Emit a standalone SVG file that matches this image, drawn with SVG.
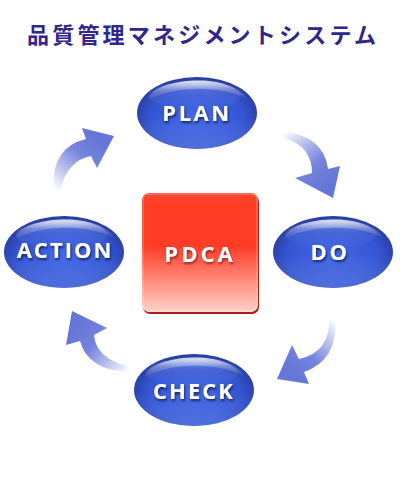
<svg xmlns="http://www.w3.org/2000/svg" width="400" height="500" viewBox="0 0 400 500">
<defs>
<style>
.title{font-family:"Noto Sans CJK JP","Noto Sans CJK SC",sans-serif;font-weight:700;font-size:22px;letter-spacing:3.2px;fill:#2f278c}
.lbl{font-family:"Open Sans","DejaVu Sans",sans-serif;font-weight:700;font-size:22px;fill:#ffffff;text-anchor:middle}
</style>
<radialGradient id="gBlue" cx="0.5" cy="0.55" r="0.55">
<stop offset="0" stop-color="#4468e8"/>
<stop offset="0.7" stop-color="#3455d2"/>
<stop offset="1" stop-color="#283c9e"/>
</radialGradient>
<linearGradient id="gRim" x1="0" y1="0" x2="0" y2="1">
<stop offset="0.55" stop-color="#7090f0" stop-opacity="0"/>
<stop offset="1" stop-color="#7090f0" stop-opacity="0.5"/>
</linearGradient>
<linearGradient id="gHi" x1="0" y1="0" x2="0" y2="1">
<stop offset="0" stop-color="#ffffff" stop-opacity="0.85"/>
<stop offset="0.45" stop-color="#ffffff" stop-opacity="0.25"/>
<stop offset="1" stop-color="#ffffff" stop-opacity="0"/>
</linearGradient>
<linearGradient id="gRed" x1="0" y1="0" x2="0" y2="1">
<stop offset="0" stop-color="#ff4a34"/>
<stop offset="0.08" stop-color="#ff3c24"/>
<stop offset="0.45" stop-color="#ff3d26"/>
<stop offset="1" stop-color="#ffd2ca"/>
</linearGradient>
<linearGradient id="a1" gradientUnits="userSpaceOnUse" x1="282" y1="134" x2="326" y2="186">
<stop offset="0" stop-color="#6676d8" stop-opacity="0"/>
<stop offset="0.2" stop-color="#6676d8" stop-opacity="0.3"/>
<stop offset="0.65" stop-color="#6676d8" stop-opacity="0.9"/>
<stop offset="1" stop-color="#6676d8"/>
</linearGradient>
<linearGradient id="a2" gradientUnits="userSpaceOnUse" x1="56" y1="190" x2="100" y2="140">
<stop offset="0" stop-color="#6676d8" stop-opacity="0"/>
<stop offset="0.2" stop-color="#6676d8" stop-opacity="0.3"/>
<stop offset="0.65" stop-color="#6676d8" stop-opacity="0.9"/>
<stop offset="1" stop-color="#6676d8"/>
</linearGradient>
<linearGradient id="a3" gradientUnits="userSpaceOnUse" x1="332" y1="318" x2="290" y2="372">
<stop offset="0" stop-color="#6676d8" stop-opacity="0"/>
<stop offset="0.2" stop-color="#6676d8" stop-opacity="0.3"/>
<stop offset="0.65" stop-color="#6676d8" stop-opacity="0.9"/>
<stop offset="1" stop-color="#6676d8"/>
</linearGradient>
<linearGradient id="a4" gradientUnits="userSpaceOnUse" x1="130" y1="370" x2="80" y2="325">
<stop offset="0" stop-color="#6676d8" stop-opacity="0"/>
<stop offset="0.2" stop-color="#6676d8" stop-opacity="0.3"/>
<stop offset="0.65" stop-color="#6676d8" stop-opacity="0.9"/>
<stop offset="1" stop-color="#6676d8"/>
</linearGradient>
<filter id="ts" x="-20%" y="-30%" width="140%" height="170%">
<feDropShadow dx="1" dy="2" stdDeviation="0.8" flood-color="#0e1a50" flood-opacity="0.85"/>
</filter>
<filter id="ts2" x="-20%" y="-30%" width="140%" height="170%">
<feDropShadow dx="1" dy="2" stdDeviation="0.8" flood-color="#7a1008" flood-opacity="0.7"/>
</filter>
<g id="pill">
<ellipse cx="0" cy="0" rx="60" ry="36" fill="url(#gBlue)"/>
<ellipse cx="0" cy="0" rx="60" ry="36" fill="url(#gRim)"/>
<path d="M -50 -12 C -44 -30 -10 -34 12 -32 C 32 -30 46 -22 50 -14 C 30 -26 -20 -30 -50 -12 Z" fill="url(#gHi)"/>
<ellipse cx="-2" cy="-17" rx="46" ry="14" fill="url(#gHi)" opacity="0.3"/>
</g>
</defs>

<text class="title" x="27" y="43">品質管理マネジメントシステム</text>

<g id="connectors">
<path d="M 282 131 Q 324 136 328 169 L 340 166 L 333 198 L 295 178 L 312 173 Q 312 146 284 138 Z" fill="url(#a1)"/>
<path d="M 53 188 Q 52 147 86 139 L 82 128 L 114 136 L 97 168 L 91 156 Q 68 160 60 190 Z" fill="url(#a2)"/>
<path d="M 329 320 Q 330 352 299 359 L 292 345 L 277 379 L 309 384 L 304 372 Q 338 360 335 320 Z" fill="url(#a3)"/>
<path d="M 127 366 Q 96 358 94 335 L 107 328 L 72 311 L 66 345 L 80 341 Q 88 370 128 372 Z" fill="url(#a4)"/>
</g>

<g id="pdca">
<rect x="143" y="195" width="116" height="119" rx="7" fill="#a82214"/>
<rect x="142" y="193" width="116" height="119" rx="7" fill="url(#gRed)"/>
<rect x="143" y="194" width="114" height="117" rx="6" fill="none" stroke="#ffffff" stroke-opacity="0.35" stroke-width="1"/>
<text class="lbl" x="200" y="262" letter-spacing="3" filter="url(#ts2)">PDCA</text>
</g>

<g id="plan" transform="translate(197,113)">
<use href="#pill"/>
<text class="lbl" x="0" y="8" letter-spacing="2.5" filter="url(#ts)">PLAN</text>
</g>

<g id="do" transform="translate(333,252)">
<use href="#pill"/>
<text class="lbl" x="-3" y="8" letter-spacing="2.5" filter="url(#ts)">DO</text>
</g>

<g id="check" transform="translate(194,390)">
<use href="#pill"/>
<text class="lbl" x="0" y="9" letter-spacing="2" filter="url(#ts)">CHECK</text>
</g>

<g id="action" transform="translate(64,252)">
<use href="#pill"/>
<text class="lbl" x="1" y="6" letter-spacing="2" filter="url(#ts)">ACTION</text>
</g>
</svg>
